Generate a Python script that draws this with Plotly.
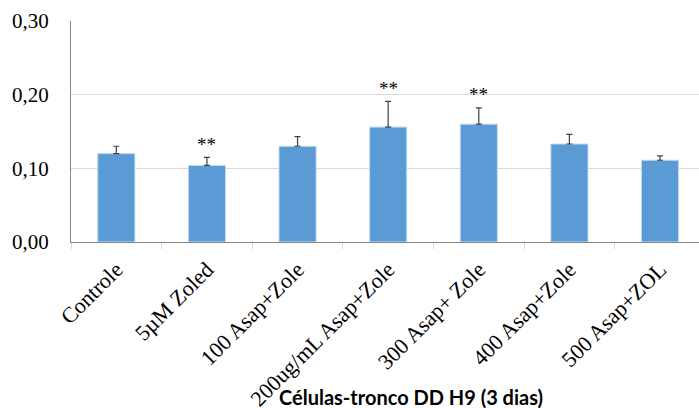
import plotly.graph_objects as go

categories = ["Controle", "5µM Zoled", "100 Asap+Zole", "200ug/mL Asap+Zole",
              "300 Asap+ Zole", "400 Asap+Zole", "500 Asap+ZOL"]
values = [0.120, 0.104, 0.130, 0.156, 0.160, 0.133, 0.111]
errors = [0.010, 0.011, 0.013, 0.035, 0.022, 0.013, 0.006]
significance = ["", "**", "", "**", "**", "", ""]
y_ticks = [0.0, 0.1, 0.2, 0.3]
x_title = "Células-tronco DD H9 (3 dias)"

serif = "Liberation Serif, Times New Roman, serif"

fig = go.Figure()
fig.add_trace(go.Bar(
    x=categories, y=values, width=0.41,
    marker=dict(color="#5b9bd5", line=dict(color="#c5dcf0", width=1)),
    error_y=dict(type="data", symmetric=False, array=errors,
                 arrayminus=[0] * len(errors), color="#404040",
                 thickness=1.2, width=3),
))

for cat, v, e, s in zip(categories, values, errors, significance):
    if s:
        fig.add_annotation(x=cat, y=v + e + 0.018, text=s, showarrow=False,
                           font=dict(family=serif, size=19, color="#000"),
                           yanchor="middle")

fig.add_annotation(x=0.542, y=-0.70, xref="paper", yref="paper",
                   text="<b>" + x_title + "</b>", showarrow=False,
                   font=dict(family="Lato, Open Sans, sans-serif", size=20, color="#000"),
                   xanchor="center", yanchor="middle")

fig.update_layout(
    width=699, height=408,
    margin=dict(l=71, r=0, t=21, b=166),
    plot_bgcolor="white", paper_bgcolor="white",
    separators=",.",
    showlegend=False,
)
fig.update_xaxes(
    type="category", range=[-0.5, 6.43], automargin=False,
    tickangle=-45, tickfont=dict(family=serif, size=22, color="#000"),
    showline=True, linecolor="#868686", linewidth=1,
    ticks="outside", tickson="boundaries", ticklen=6, tickcolor="#d9d9d9",
    ticklabelstandoff=5, showgrid=False,
)
fig.update_yaxes(
    range=[0, 0.3], tickvals=y_ticks, tickformat=".2f", automargin=False,
    tickfont=dict(family=serif, size=21, color="#000"),
    showgrid=True, gridcolor="#d9d9d9", gridwidth=1,
    showline=True, linecolor="#868686", linewidth=1,
    ticks="", ticklabelstandoff=17, zeroline=False,
)

fig.write_html("out.html", config={"displayModeBar": False},
               post_script="document.body.style.margin='0';")
